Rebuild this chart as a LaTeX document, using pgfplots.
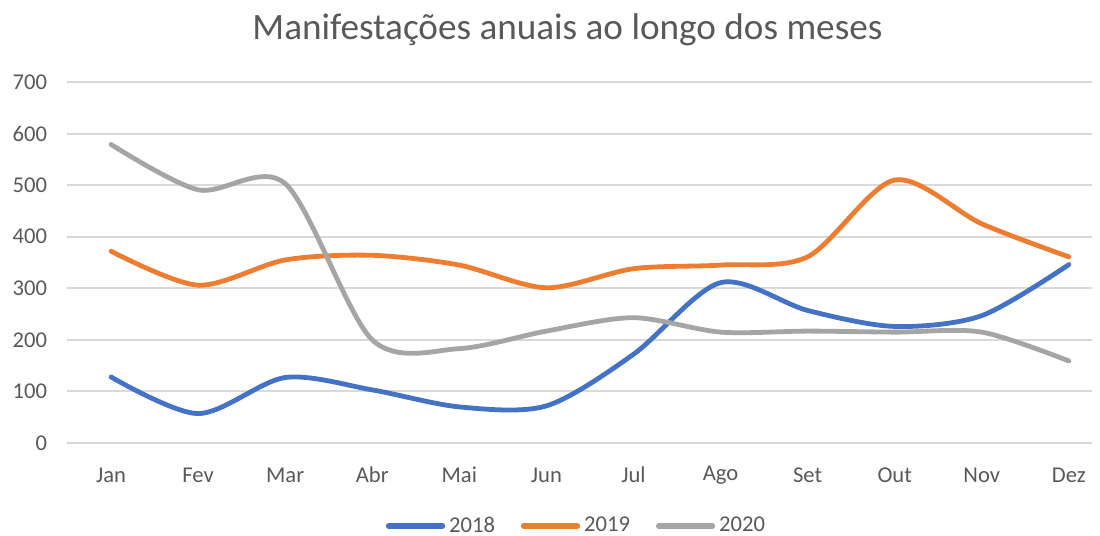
\documentclass[border=0pt]{standalone}
\usepackage{fontspec}
\setmainfont{Carlito}
\usepackage{pgfplots}
\pgfplotsset{compat=1.18}

\definecolor{xlblue}{HTML}{4472C4}
\definecolor{xlorange}{HTML}{ED7D31}
\definecolor{xlgray}{HTML}{A5A5A5}
\definecolor{gridc}{HTML}{D9D9D9}
\definecolor{txt}{HTML}{595959}

\begin{document}
\begin{tikzpicture}
% canvas: 1100 x 536 px at 0.5pt per px, axis origin at (67.5px, 443px)
\useasboundingbox (-33.75pt,-46.5pt) rectangle (516.25pt,221.5pt);
\begin{axis}[
  scale only axis,
  width=512pt, height=180.5pt,
  xmin=-0.5, xmax=11.26,
  ymin=0, ymax=700,
  ytick={0,100,...,700},
  xtick={0,...,11},
  xticklabels={Jan,Fev,Mar,Abr,Mai,Jun,Jul,Ago,Set,Out,Nov,Dez},
  axis line style={draw=none},
  ymajorgrids,
  grid style={gridc, line width=1pt},
  major tick length=0pt,
  /pgf/number format/assume math mode=true,
  tick label style={font=\fontsize{11.3}{13}\selectfont, text=txt},
  yticklabel style={anchor=east, inner sep=0pt, xshift=-10pt},
  xticklabel style={anchor=center, inner sep=0pt, yshift=-16pt},
  every axis plot/.append style={line width=2.4pt, line cap=round, line join=round, smooth, no markers},
  legend style={at={(0.498,-0.23)}, anchor=center, draw=none, fill=none,
    font=\fontsize{11.3}{13}\selectfont, text=txt, inner sep=0pt},
  legend columns=-1,
  legend cell align=left,
  /tikz/every even column/.append style={column sep=11pt},
  legend image code/.code={\draw[#1, line width=2.6pt, line cap=round] (0pt,0pt) -- (27pt,0pt);},
]
\addplot[xlblue] coordinates {
  (0,128) (1,57) (2,127) (3,103) (4,70) (5,72)
  (6,172) (7,311) (8,257) (9,226) (10,247) (11,346)};
\addlegendentry{2018}
\addplot[xlorange] coordinates {
  (0,372) (1,306) (2,355) (3,364) (4,345) (5,301)
  (6,338) (7,345) (8,361) (9,510) (10,425) (11,361)};
\addlegendentry{2019}
\addplot[xlgray] coordinates {
  (0,579) (1,491) (2,503) (3,200) (4,183) (5,217)
  (6,243) (7,215) (8,217) (9,215) (10,215) (11,159)};
\addlegendentry{2020}
\end{axis}
\node[text=txt, font=\fontsize{18.6}{22}\selectfont] at (250pt,206.5pt) {Manifestações anuais ao longo dos meses};
\end{tikzpicture}
\end{document}
